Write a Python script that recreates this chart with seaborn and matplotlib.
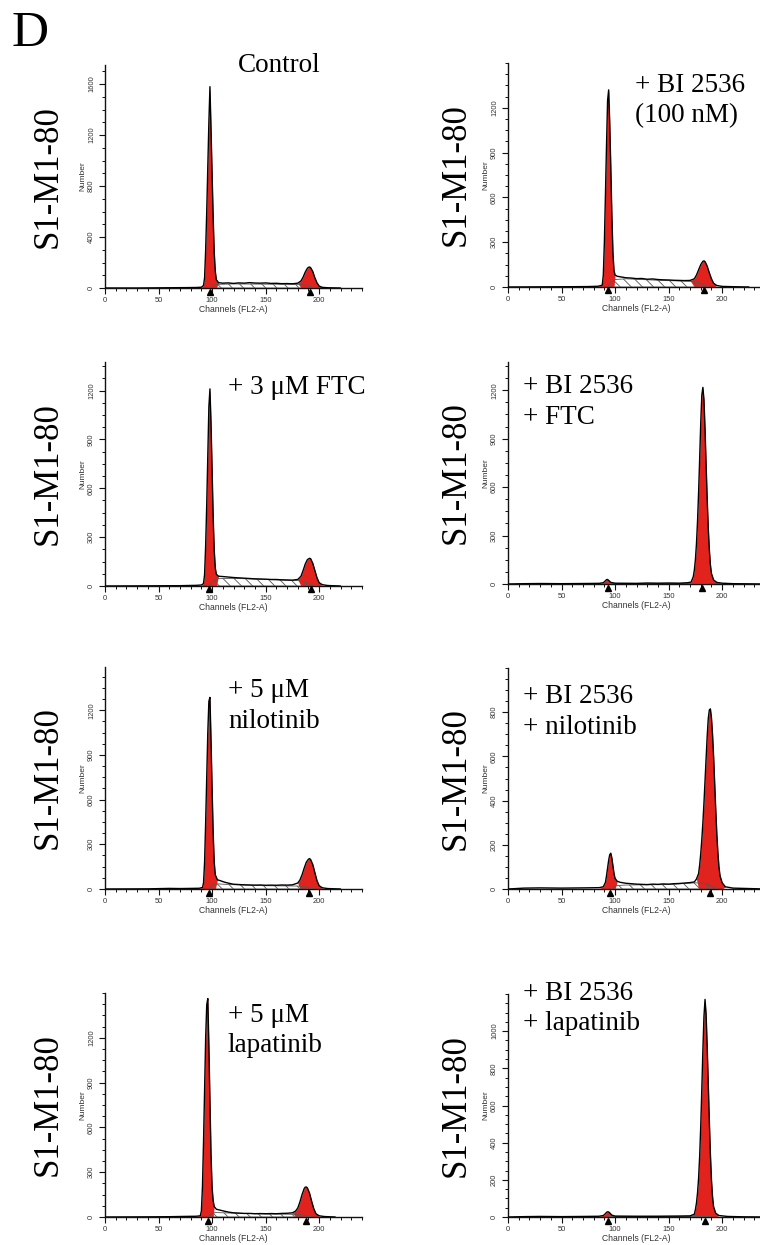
import numpy as np
import matplotlib
matplotlib.use("Agg")
import matplotlib.pyplot as plt
import matplotlib.transforms as mtransforms
from matplotlib.ticker import MultipleLocator, FixedLocator
import seaborn as sns

sns.set_style("ticks")
plt.rcParams["font.family"] = ["Liberation Sans", "DejaVu Sans"]
plt.rcParams["hatch.linewidth"] = 0.6
plt.rcParams["hatch.color"] = "#444444"

# ---------------- data ----------------
# Control
control_ch = [0, 30, 60, 75, 85, 90, 92, 93, 94, 95, 96, 97, 98, 99, 100, 101, 102, 103, 104, 106, 110, 115, 120,
              125, 130, 135, 140, 145, 150, 155, 160, 165, 170, 175, 180, 183, 185, 187, 189, 190, 191, 192, 194,
              196, 198, 200, 203, 208, 220]
control_cnt = [0, 0, 2, 3, 4, 6, 20, 80, 300, 600, 950, 1300, 1580, 1250, 900, 560, 280, 130, 65, 42, 38, 40, 36,
               40, 38, 42, 39, 38, 40, 36, 37, 34, 35, 33, 38, 55, 85, 125, 155, 162, 165, 160, 130,
               80, 40, 15, 5, 2, 0]
control_s_ch = [97, 100, 104, 120, 150, 180, 188, 192, 197]
control_s_cnt = [0, 18, 28, 32, 30, 28, 22, 10, 0]
control_g1 = (92, 104)
control_g2 = (183, 201)
control_peaks = [98, 191]

# + BI 2536 (100 nM)
bi_ch = [0, 30, 60, 75, 84, 88, 89, 90, 91, 92, 93, 94, 95, 96, 97, 98, 99, 100, 102, 105, 110, 115, 120, 125,
         130, 135, 140, 145, 150, 155, 160, 165, 170, 174, 176, 178, 180, 182, 183, 184, 186, 188, 190, 192,
         195, 200, 210, 225]
bi_cnt = [0, 1, 2, 3, 5, 12, 80, 300, 620, 950, 1250, 1320, 1100, 800, 480, 230, 110, 80, 72, 68, 62, 60, 56, 57,
          52, 54, 50, 48, 47, 45, 44, 43, 44, 55, 80, 115, 150, 172, 175, 170, 140, 95, 55, 25,
          10, 4, 2, 0]
bi_s_ch = [93, 96, 100, 110, 140, 170, 178, 183, 188]
bi_s_cnt = [0, 30, 50, 55, 45, 38, 30, 15, 0]
bi_g1 = (88, 99)
bi_g2 = (173, 192)
bi_peaks = [93, 183]

# + 3 uM FTC
ftc_ch = [0, 40, 70, 85, 90, 92, 93, 94, 95, 96, 97, 98, 99, 100, 101, 102, 103, 104, 106, 110, 115, 120, 125,
          130, 135, 140, 145, 150, 155, 160, 165, 170, 175, 180, 183, 185, 187, 189, 191, 192, 194, 196, 198,
          200, 203, 208, 220]
ftc_cnt = [0, 1, 2, 4, 6, 15, 70, 250, 500, 800, 1100, 1210, 1000, 720, 430, 220, 110, 72, 60, 58, 55, 52, 50,
           48, 46, 44, 43, 42, 40, 40, 38, 37, 36, 40, 60, 95, 135, 162, 170, 168, 140, 95, 50,
           20, 8, 3, 0]
ftc_s_ch = [97, 100, 105, 120, 150, 180, 187, 192, 198]
ftc_s_cnt = [0, 25, 45, 47, 40, 33, 25, 10, 0]
ftc_g1 = (92, 104)
ftc_g2 = (182, 200)
ftc_peaks = [97.5, 192]

# + BI 2536 + FTC
biftc_ch = [0, 15, 30, 50, 70, 85, 89, 91, 92, 93, 94, 96, 100, 120, 130, 140, 150, 160, 168, 171, 173, 174, 175,
            176, 177, 178, 179, 180, 181, 182, 183, 184, 185, 186, 187, 188, 189, 190, 192, 195, 200, 210, 240]
biftc_cnt = [0, 2, 3, 2, 3, 4, 8, 20, 27, 28, 22, 10, 5, 4, 6, 5, 6, 5, 8, 12, 45, 85, 150,
             250, 390, 570, 780, 1000, 1170, 1218, 1140, 960, 740, 530, 350, 215, 120, 65, 25, 10, 5, 2, 0]
biftc_s_ch = [93, 100, 140, 175, 182, 188]
biftc_s_cnt = [0, 3, 4, 4, 2, 0]
biftc_g1 = (89, 97)
biftc_g2 = (171, 195)
biftc_peaks = [93, 181]

# + 5 uM nilotinib
nilo_ch = [0, 40, 60, 70, 80, 88, 91, 92, 93, 94, 95, 96, 97, 98, 99, 100, 101, 102, 103, 105, 108, 112, 116,
           120, 125, 130, 135, 140, 145, 150, 155, 160, 165, 170, 175, 180, 182, 184, 186, 188, 190, 191, 192,
           194, 196, 198, 200, 203, 208, 220]
nilo_cnt = [0, 1, 4, 3, 4, 5, 10, 40, 180, 450, 750, 1050, 1260, 1286, 1000, 680, 380, 180, 95, 62, 55, 45, 38,
            32, 30, 28, 27, 26, 27, 25, 26, 25, 27, 26, 28, 40, 60, 95, 140, 180, 200, 204, 198,
            165, 110, 55, 22, 8, 3, 0]
nilo_s_ch = [97, 100, 104, 115, 150, 180, 187, 192, 197]
nilo_s_cnt = [0, 25, 35, 30, 22, 20, 15, 6, 0]
nilo_g1 = (91, 103)
nilo_g2 = (182, 200)
nilo_peaks = [97, 190.5]

# + BI 2536 + nilotinib
binilo_ch = [0, 15, 30, 50, 70, 85, 89, 91, 92, 93, 94, 95, 96, 97, 98, 99, 100, 102, 105, 110, 115, 120, 125,
             130, 135, 140, 145, 150, 155, 160, 165, 170, 174, 176, 178, 179, 180, 181, 182, 183, 184, 185, 186,
             187, 188, 189, 190, 191, 192, 193, 194, 195, 196, 197, 198, 200, 203, 210, 225, 240]
binilo_cnt = [0, 4, 5, 4, 5, 6, 10, 30, 60, 95, 130, 155, 162, 140, 105, 70, 48, 35, 30, 26, 24, 22, 21,
              20, 22, 21, 23, 22, 24, 25, 27, 29, 32, 45, 70, 110, 160, 225, 300, 390, 490, 590, 690,
              770, 810, 815, 775, 700, 600, 480, 360, 250, 165, 100, 60, 28, 10, 4, 2, 0]
binilo_s_ch = [96, 100, 110, 150, 175, 185, 190, 196]
binilo_s_cnt = [0, 15, 18, 20, 28, 25, 15, 0]
binilo_g1 = (89, 101)
binilo_g2 = (177, 200)
binilo_peaks = [95.7, 188.6]

# + 5 uM lapatinib
lapa_ch = [0, 40, 60, 75, 85, 89, 90, 91, 92, 93, 94, 95, 96, 97, 98, 99, 100, 101, 102, 104, 108, 112, 116,
           120, 125, 130, 135, 140, 145, 150, 155, 160, 165, 170, 175, 178, 180, 182, 184, 186, 187, 188, 189,
           191, 193, 195, 197, 200, 205, 215]
lapa_cnt = [0, 1, 2, 4, 5, 8, 40, 200, 500, 850, 1200, 1420, 1463, 1150, 780, 420, 200, 110, 70, 52, 45, 38, 32,
            28, 26, 24, 24, 22, 23, 22, 23, 22, 24, 25, 28, 40, 60, 100, 150, 190, 200, 201, 195,
            160, 105, 55, 22, 8, 3, 0]
lapa_s_ch = [96, 99, 103, 115, 150, 178, 184, 189, 194]
lapa_s_cnt = [0, 20, 30, 27, 20, 18, 14, 6, 0]
lapa_g1 = (89, 101)
lapa_g2 = (177, 197)
lapa_peaks = [96, 188]

# + BI 2536 + lapatinib
bilapa_ch = [0, 15, 30, 50, 70, 85, 89, 91, 92, 93, 94, 95, 97, 100, 120, 140, 160, 170, 174, 175, 176, 177,
             178, 179, 180, 181, 182, 183, 184, 185, 186, 187, 188, 189, 190, 191, 192, 194, 197, 205, 220, 240]
bilapa_cnt = [0, 2, 3, 2, 3, 4, 8, 18, 25, 28, 27, 22, 10, 5, 4, 4, 5, 6, 15, 40, 75, 130,
              210, 330, 490, 690, 900, 1080, 1171, 1090, 920, 720, 520, 340, 200, 110, 55, 20, 8, 3, 1, 0]
bilapa_s_ch = [93, 100, 150, 178, 184, 190]
bilapa_s_cnt = [0, 3, 4, 4, 2, 0]
bilapa_g1 = (89, 98)
bilapa_g2 = (173, 194)
bilapa_peaks = [93.3, 184]

panel_titles = [["Control"], ["+ BI 2536", "(100 nM)"], ["+ 3 μM FTC"], ["+ BI 2536", "+ FTC"],
                ["+ 5 μM", "nilotinib"], ["+ BI 2536", "+ nilotinib"], ["+ 5 μM", "lapatinib"],
                ["+ BI 2536", "+ lapatinib"]]
y_major_step = [400, 300, 300, 300, 300, 200, 300, 200]
y_label_max = [1600, 1200, 1200, 1200, 1200, 800, 1200, 1000]
y_top = [1750, 1500, 1375, 1375, 1490, 1000, 1500, 1200]
x_major = [0, 50, 100, 150, 200]

series = [
    (control_ch, control_cnt, control_s_ch, control_s_cnt, control_g1, control_g2, control_peaks),
    (bi_ch, bi_cnt, bi_s_ch, bi_s_cnt, bi_g1, bi_g2, bi_peaks),
    (ftc_ch, ftc_cnt, ftc_s_ch, ftc_s_cnt, ftc_g1, ftc_g2, ftc_peaks),
    (biftc_ch, biftc_cnt, biftc_s_ch, biftc_s_cnt, biftc_g1, biftc_g2, biftc_peaks),
    (nilo_ch, nilo_cnt, nilo_s_ch, nilo_s_cnt, nilo_g1, nilo_g2, nilo_peaks),
    (binilo_ch, binilo_cnt, binilo_s_ch, binilo_s_cnt, binilo_g1, binilo_g2, binilo_peaks),
    (lapa_ch, lapa_cnt, lapa_s_ch, lapa_s_cnt, lapa_g1, lapa_g2, lapa_peaks),
    (bilapa_ch, bilapa_cnt, bilapa_s_ch, bilapa_s_cnt, bilapa_g1, bilapa_g2, bilapa_peaks),
]

# ---------------- layout (pixels) ----------------
W, H = 760, 1245
ax_w = 257
# (left, top, bottom) of each plot area in pixels
boxes = [(105, 65, 288), (508, 63, 287), (105, 362, 586), (508, 362, 584),
         (105, 667, 889), (508, 668, 889), (105, 993, 1217), (508, 994, 1217)]
# first-line baseline positions of the condition labels (left, baseline)
title_pos = [(238, 72), (635, 92), (228, 394), (523, 393), (228, 697), (523, 703), (228, 1022), (523, 1000)]
title_gap = [30, 30, 30, 31, 31, 31, 30, 30]

RED = "#e2231d"
SERIF = ["Liberation Serif", "DejaVu Serif"]

fig = plt.figure(figsize=(W / 100, H / 100), dpi=100)

for i, (box, data) in enumerate(zip(boxes, series)):
    left, top, bottom = box
    ax = fig.add_axes([left / W, 1 - bottom / H, ax_w / W, (bottom - top) / H])
    ch, cnt, s_ch, s_cnt, g1, g2, peaks = data
    ch_a = np.array(ch, dtype=float)
    cnt_a = np.array(cnt, dtype=float)

    # red G1 / G2 peaks
    for lo, hi in (g1, g2):
        ax.fill_between(ch_a, cnt_a, 0, where=(ch_a >= lo) & (ch_a <= hi), interpolate=True,
                        color=RED, linewidth=0, zorder=2)
    # S-phase hatched region
    ax.fill_between(s_ch, s_cnt, 0, facecolor="none", edgecolor="#555555", hatch="\\\\\\",
                    linewidth=0.6, zorder=3)
    # histogram outline
    sns.lineplot(x=ch, y=cnt, ax=ax, color="black", linewidth=1.0, estimator=None, sort=False, zorder=4)
    # peak markers on the axis
    tr = mtransforms.offset_copy(ax.transData, fig=fig, x=0, y=-3.5, units="dots")
    ax.plot(peaks, [0] * len(peaks), linestyle="none", marker="^", markersize=4.8, color="black",
            transform=tr, clip_on=False, zorder=6)

    ax.set_xlim(0, 240)
    ax.set_ylim(0, y_top[i])
    ax.xaxis.set_major_locator(FixedLocator(x_major))
    ax.xaxis.set_minor_locator(MultipleLocator(10))
    ax.yaxis.set_major_locator(FixedLocator(list(range(0, y_label_max[i] + 1, y_major_step[i]))))
    ax.yaxis.set_minor_locator(MultipleLocator(y_major_step[i] / 4))
    sns.despine(ax=ax)
    for sp in ("left", "bottom"):
        ax.spines[sp].set_linewidth(1.0)
        ax.spines[sp].set_color("#111111")
    ax.tick_params(axis="both", which="major", length=4.2, width=0.8, labelsize=5.4,
                   labelcolor="#333333", color="#111111")
    ax.tick_params(axis="both", which="minor", length=2.2, width=0.7, color="#111111")
    ax.tick_params(axis="x", which="major", pad=2.2)
    ax.tick_params(axis="y", which="major", pad=3.0, labelrotation=90)
    for lab in ax.get_yticklabels():
        lab.set_va("center")
    ax.set_xlabel("Channels (FL2-A)", fontsize=6.2, color="#333333")
    ax.set_ylabel("Number", fontsize=6.0, color="#333333")
    ax.xaxis.set_label_coords(0.5, -0.098)
    ax.yaxis.set_label_coords(-0.085, 0.5)
    ax.yaxis.label.set_va("center")
    ax.xaxis.label.set_va("center")
    ax.patch.set_alpha(0)

    # big row label
    cx = 48 if left < 300 else 456
    fig.text(cx / W, 1 - ((top + bottom) / 2) / H, "S1-M1-80", rotation=90, ha="center", va="center",
             fontsize=25, family=SERIF, color="black")

    # condition label
    tx, ty = title_pos[i]
    for k, line in enumerate(panel_titles[i]):
        fig.text(tx / W, 1 - (ty + k * title_gap[i]) / H, line, ha="left", va="baseline",
                 fontsize=19.5, family=SERIF, color="black")

fig.text(12 / W, 1 - 46 / H, "D", ha="left", va="baseline", fontsize=37, family=SERIF, color="black")

fig.savefig("out.png", dpi=100, facecolor="white")
